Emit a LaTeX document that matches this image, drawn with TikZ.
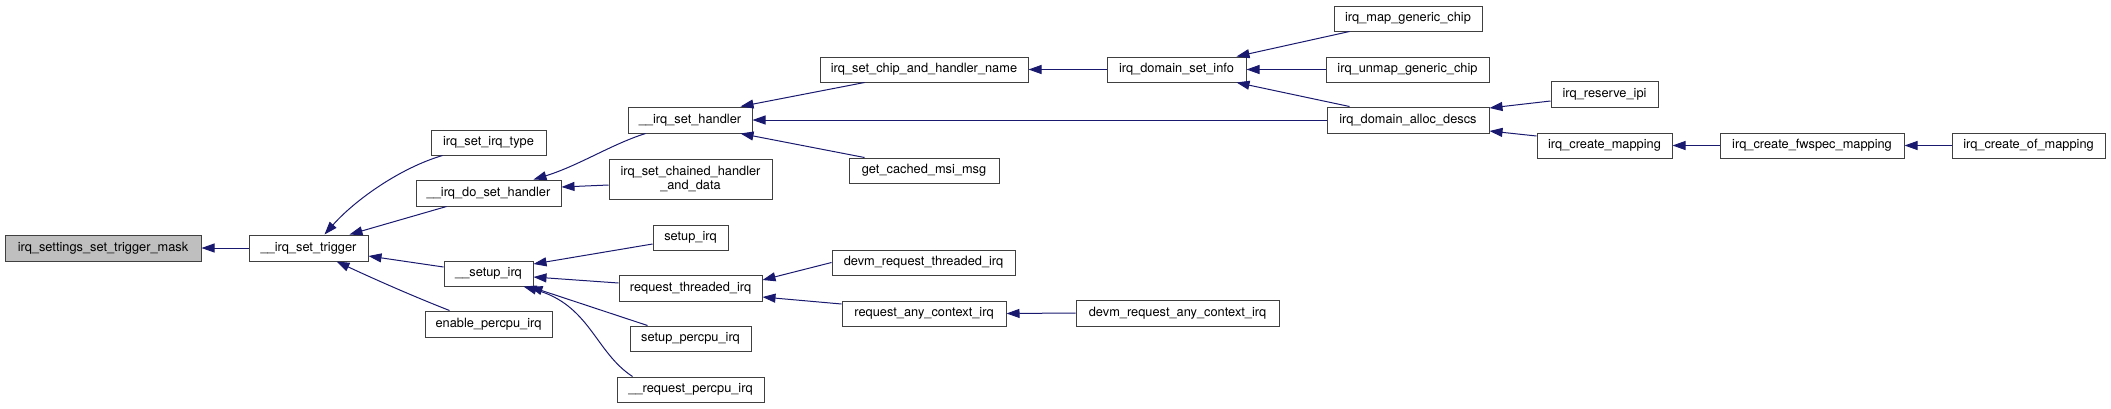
\documentclass[tikz,border=0pt]{standalone}
\usepackage{fontspec}
\setmainfont{TeX Gyre Heros}
\usetikzlibrary{arrows.meta}
\definecolor{edgeblue}{RGB}{25,25,112}
\definecolor{boxline}{RGB}{64,64,64}
\definecolor{rootfill}{RGB}{191,191,191}
\begin{document}
\begin{tikzpicture}[x=1pt,y=-1pt,
  fbox/.style={draw=boxline, line width=1pt, fill=white, inner sep=0pt, align=center,
    font=\fontsize{12.8}{14}\selectfont},
  rootbox/.style={fbox, fill=rootfill},
  call/.style={draw=edgeblue, line width=1pt, -{Triangle[length=13pt,width=9pt]}, color=edgeblue}
]
\useasboundingbox (0,0) rectangle (2111,408);
% nodes: center (x,y), width, height
\newcommand{\bx}[7][fbox]{\node[#1, minimum width=#5pt, minimum height=#6pt] (#2) at (#3,#4) {#7};}
\bx[rootbox]{mask}{103}{248}{196}{26}{irq\_settings\_set\_trigger\_mask}
\bx{trig}{308.5}{248}{119}{26}{\_\_irq\_set\_trigger}
\bx{type}{488.5}{142.5}{115}{25}{irq\_set\_irq\_type}
\bx{doset}{488.5}{193}{145}{26}{\_\_irq\_do\_set\_handler}
\bx{chained}{690.5}{179}{163}{40}{irq\_set\_chained\_handler\\\_and\_data}
\bx{sethandler}{690}{120}{124}{26}{\_\_irq\_set\_handler}
\bx{chipname}{924}{69.5}{208}{25}{irq\_set\_chip\_and\_handler\_name}
\bx{cached}{924}{170.5}{150}{25}{get\_cached\_msi\_msg}
\bx{setinfo}{1176.5}{69.5}{139}{25}{irq\_domain\_set\_info}
\bx{mapgc}{1408}{18.5}{148}{25}{irq\_map\_generic\_chip}
\bx{unmapgc}{1407.5}{69.5}{163}{25}{irq\_unmap\_generic\_chip}
\bx{alloc}{1408}{120}{162}{26}{irq\_domain\_alloc\_descs}
\bx{reserve}{1604.5}{94}{107}{26}{irq\_reserve\_ipi}
\bx{createmap}{1604.5}{145.5}{135}{25}{irq\_create\_mapping}
\bx{fwspec}{1812}{145.5}{184}{25}{irq\_create\_fwspec\_mapping}
\bx{ofmap}{2028.5}{145.5}{153}{25}{irq\_create\_of\_mapping}
\bx{sirq}{488.5}{273.5}{89}{25}{\_\_setup\_irq}
\bx{enable}{488.5}{324}{127}{26}{enable\_percpu\_irq}
\bx{setupirq}{690.5}{237.5}{75}{25}{setup\_irq}
\bx{reqthr}{690.5}{288}{143}{26}{request\_threaded\_irq}
\bx{setpercpu}{690.5}{338.5}{121}{25}{setup\_percpu\_irq}
\bx{reqpercpu}{690.5}{389.5}{147}{25}{\_\_request\_percpu\_irq}
\bx{devmthr}{923.5}{262.5}{183}{25}{devm\_request\_threaded\_irq}
\bx{reqany}{924}{313.5}{164}{25}{request\_any\_context\_irq}
\bx{devmany}{1177.5}{313}{203}{26}{devm\_request\_any\_context\_irq}
% edges (caller -> callee)
\draw[call] (trig.west) -- (mask.east);
\draw[call] ([xshift=12pt]type.south west) .. controls (400,168) and (355,200) .. ([xshift=76pt]trig.north west);
\draw[call] ([xshift=31pt]doset.south west) -- ([xshift=101pt]trig.north west);
\draw[call] ([yshift=6.5pt]sirq.west) -- ([yshift=-8pt]trig.east);
\draw[call] ([xshift=25pt]enable.north west) .. controls (410,295) and (372,278) .. ([xshift=88pt]trig.south west);
\draw[call] ([xshift=18pt]sethandler.south west) .. controls (612,144) and (578,166) .. ([xshift=-28pt]doset.north east);
\draw[call] ([yshift=-6pt]chained.west) -- ([yshift=6pt]doset.east);
\draw[call] ([xshift=45pt]chipname.south west) -- ([xshift=-12pt]sethandler.north east);
\draw[call] (alloc.west) -- (sethandler.east);
\draw[call] ([xshift=16pt]cached.north west) -- ([xshift=-12pt]sethandler.south east);
\draw[call] (setinfo.west) -- (chipname.east);
\draw[call] ([xshift=16pt]mapgc.south west) -- ([xshift=-10pt]setinfo.north east);
\draw[call] (unmapgc.west) -- (setinfo.east);
\draw[call] ([xshift=23pt]alloc.north west) -- ([xshift=-10pt]setinfo.south east);
\draw[call] ([yshift=-7pt]reserve.west) -- ([yshift=12pt]alloc.east);
\draw[call] ([yshift=9.5pt]createmap.west) -- ([yshift=-11pt]alloc.east);
\draw[call] (fwspec.west) -- (createmap.east);
\draw[call] (ofmap.west) -- (fwspec.east);
\draw[call] ([yshift=-6.5pt]setupirq.west) -- ([yshift=9.5pt]sirq.east);
\draw[call] ([yshift=5pt]reqthr.west) -- ([yshift=-3.5pt]sirq.east);
\draw[call] ([xshift=18pt]setpercpu.north west) -- ([xshift=-4pt]sirq.south east);
\draw[call] ([xshift=16pt]reqpercpu.north west) .. controls (595,352) and (590,305) .. ([xshift=-10pt]sirq.south east);
\draw[call] (devmthr.west) -- ([yshift=8pt]reqthr.east);
\draw[call] ([yshift=9.5pt]reqany.west) -- ([yshift=-9pt]reqthr.east);
\draw[call] (devmany.west) -- (reqany.east);
\end{tikzpicture}
\end{document}
